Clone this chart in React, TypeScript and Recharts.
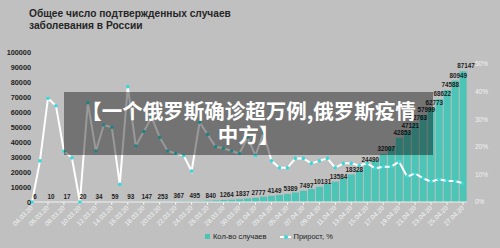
import React from 'react';
import { ComposedChart, Bar, Line, XAxis, YAxis, LabelList } from 'recharts';

const dates = [
  '04.03.20', '05.03.20', '06.03.20', '07.03.20', '08.03.20', '09.03.20', '10.03.20', '11.03.20',
  '12.03.20', '13.03.20', '14.03.20', '15.03.20', '16.03.20', '17.03.20', '18.03.20', '19.03.20',
  '20.03.20', '21.03.20', '22.03.20', '23.03.20', '24.03.20', '25.03.20', '26.03.20', '27.03.20',
  '28.03.20', '29.03.20', '30.03.20', '31.03.20', '01.04.20', '02.04.20', '03.04.20', '04.04.20',
  '05.04.20', '06.04.20', '07.04.20', '08.04.20', '09.04.20', '10.04.20', '11.04.20', '12.04.20',
  '13.04.20', '14.04.20', '15.04.20', '16.04.20', '17.04.20', '18.04.20', '19.04.20', '20.04.20',
  '21.04.20', '22.04.20', '23.04.20', '24.04.20', '25.04.20', '26.04.20', '27.04.20',
];

const cases = [
  6, 7, 10, 14, 17, 17, 20, 28, 34, 45,
  59, 63, 93, 114, 147, 199, 253, 306, 367, 438,
  495, 658, 840, 1036, 1264, 1534, 1837, 2337, 2777, 3548,
  4149, 4731, 5389, 6343, 7497, 8672, 10131, 11917, 13584, 15770,
  18328, 21102, 24490, 27938, 32007, 36793, 42853, 47121, 52763, 57999,
  62773, 68622, 74588, 80949, 87147,
];

const caseLabels = [
  '6', '', '10', '', '17', '', '20', '', '34', '',
  '59', '', '93', '', '147', '', '253', '', '367', '',
  '495', '', '840', '', '1264', '', '1837', '', '2777', '',
  '4149', '', '5389', '', '7497', '', '10131', '', '13584', '',
  '18328', '', '24490', '', '32007', '', '42853', '47121', '52763', '57999',
  '62773', '68622', '74588', '80949', '87147',
];

const growth = [
  0, 0.149, 0.376, 0.349, 0.184, 0.16, 0, 0.36, 0.185, 0.279,
  0.271, 0.064, 0.418, 0.203, 0.255, 0.307, 0.234, 0.185, 0.176, 0.168,
  0.112, 0.289, 0.245, 0.2, 0.195, 0.185, 0.176, 0.234, 0.168, 0.25,
  0.149, 0.124, 0.124, 0.158, 0.158, 0.14, 0.149, 0.158, 0.124, 0.14,
  0.14, 0.132, 0.14, 0.122, 0.128, 0.128, 0.146, 0.092, 0.104, 0.086,
  0.074, 0.082, 0.076, 0.076, 0.068,
];

const leftTicks = [0, 10000, 20000, 30000, 40000, 50000, 60000, 70000, 80000, 90000, 100000];
const rightTicks = [0, 0.1, 0.2, 0.3, 0.4, 0.5];

const titleLines = ['Общее число подтвержденных случаев', 'заболевания в России'];
const bannerLines = ['【一个俄罗斯确诊超万例,俄罗斯疫情', '中方】'];
const seriesNames = ['Кол-во случаев', 'Прирост, %'];

const data = dates.map((d, i) => ({
  date: d,
  cases: cases[i],
  label: caseLabels[i],
  growth: growth[i],
}));

const BG = '#c0c0c0';
const BAR = '#4cc4b6';
const DOT = '#38d8d8';
const FONT = 'Arial, "Liberation Sans", sans-serif';

const XTick = (props: any) => {
  const { x, y, payload } = props;
  return (
    <g transform={`translate(${x},${y})`}>
      <text
        x={0}
        y={0}
        dy={2}
        textAnchor="end"
        transform="rotate(-45)"
        fontSize={6.5}
        fill="#f4f4f4"
        fontFamily={FONT}
      >
        {payload.value}
      </text>
    </g>
  );
};

const LTick = (props: any) => {
  const { x, y, payload } = props;
  return (
    <text x={x + 3} y={y} dy={2.6} textAnchor="end" fontSize={7.3} fontWeight="bold" fill="#1e1e1e" fontFamily={FONT}>
      {payload.value}
    </text>
  );
};

const RTick = (props: any) => {
  const { x, y, payload } = props;
  return (
    <text x={x} y={y} dy={2.4} textAnchor="start" fontSize={6.5} fill="#f2f2f2" fontFamily={FONT}>
      {`${Math.round(payload.value * 100)}%`}
    </text>
  );
};

const renderLabel = (p: any) => {
  const { x, y, width, value } = p;
  if (!value) return null;
  return (
    <text
      x={Number(x) + Number(width) / 2 + 3}
      y={Number(y) - 3}
      textAnchor="middle"
      fontSize={6.3}
      fontWeight="bold"
      fill="#1e1e1e"
      fontFamily={FONT}
    >
      {value}
    </text>
  );
};

export default function App() {
  return (
    <div
      style={{
        position: 'absolute',
        left: 0,
        top: 0,
        width: 500,
        height: 248,
        background: BG,
        overflow: 'hidden',
        fontFamily: FONT,
      }}
    >
      <div
        style={{
          position: 'absolute',
          left: 29,
          top: 8,
          fontSize: 10.2,
          fontWeight: 'bold',
          color: '#262626',
          lineHeight: '12px',
        }}
      >
        {titleLines.map((t) => (
          <div key={t}>{t}</div>
        ))}
      </div>

      <ComposedChart
        width={500}
        height={248}
        data={data}
        margin={{ top: 52, right: 0, bottom: 0, left: 0 }}
        barCategoryGap={0.6}
        style={{ position: 'absolute', left: 0, top: 0 }}
      >
        <XAxis
          dataKey="date"
          interval={1}
          height={46}
          tick={<XTick />}
          tickSize={3}
          tickMargin={2}
          axisLine={{ stroke: '#f2f2f2', strokeWidth: 1 }}
          tickLine={{ stroke: '#f2f2f2' }}
        />
        <YAxis
          yAxisId="left"
          width={28}
          domain={[0, 100000]}
          ticks={leftTicks}
          axisLine={false}
          tickLine={false}
          tickSize={0}
          tickMargin={0}
          tick={<LTick />}
          interval={0}
        />
        <YAxis
          yAxisId="right"
          orientation="right"
          width={33}
          domain={[0, 0.5435]}
          ticks={rightTicks}
          axisLine={false}
          tickLine={false}
          tickSize={0}
          tickMargin={8}
          tick={<RTick />}
          interval={0}
        />
        <Bar yAxisId="left" dataKey="cases" fill={BAR} isAnimationActive={false}>
          <LabelList dataKey="label" content={renderLabel} />
        </Bar>
        <Line
          yAxisId="right"
          dataKey="growth"
          stroke="#ffffff"
          strokeWidth={2}
          dot={{ r: 1.8, fill: DOT, stroke: 'none' }}
          activeDot={false}
          isAnimationActive={false}
        />
      </ComposedChart>

      <div
        style={{
          position: 'absolute',
          left: 64,
          top: 92,
          width: 369,
          height: 63,
          background: 'rgba(0,0,0,0.4)',
          color: '#ffffff',
          fontFamily: '"Noto Sans CJK SC", sans-serif',
          fontWeight: 'bold',
          fontSize: 20.5,
          lineHeight: '24px',
          textAlign: 'center',
          paddingTop: 6,
          boxSizing: 'border-box',
          whiteSpace: 'nowrap',
        }}
      >
        {bannerLines.map((t) => (
          <div key={t}>{t}</div>
        ))}
      </div>

      <div
        style={{
          position: 'absolute',
          left: 205,
          top: 232,
          display: 'flex',
          alignItems: 'center',
          fontSize: 7.5,
          color: '#1e1e1e',
          fontFamily: FONT,
          whiteSpace: 'nowrap',
        }}
      >
        <span style={{ display: 'inline-block', width: 5, height: 5, background: BAR, marginRight: 3 }} />
        <span>{seriesNames[0]}</span>
        <span style={{ position: 'relative', display: 'inline-block', width: 11, height: 2, background: '#ffffff', marginLeft: 13, marginRight: 3 }}>
          <span style={{ position: 'absolute', left: 4, top: -1, width: 4, height: 4, borderRadius: 2, background: DOT }} />
        </span>
        <span>{seriesNames[1]}</span>
      </div>
    </div>
  );
}
